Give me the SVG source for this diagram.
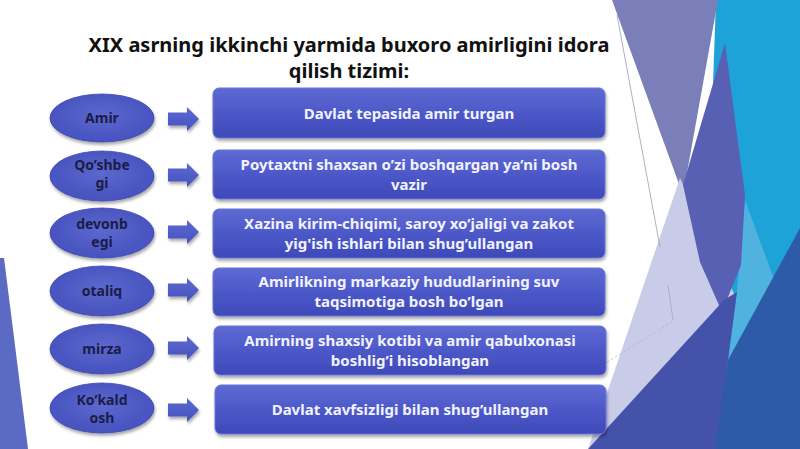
<svg xmlns="http://www.w3.org/2000/svg" width="800" height="449" viewBox="0 0 800 449">
<defs>
<linearGradient id="rg" x1="0" y1="0" x2="0" y2="1">
<stop offset="0" stop-color="#5e6ad3"/>
<stop offset="0.5" stop-color="#4d58c8"/>
<stop offset="1" stop-color="#3e49b9"/>
</linearGradient>
<radialGradient id="eg" cx="0.5" cy="0.45" r="0.6">
<stop offset="0" stop-color="#5c68ce"/>
<stop offset="1" stop-color="#4450bd"/>
</radialGradient>
<linearGradient id="ag" x1="0" y1="0" x2="0" y2="1">
<stop offset="0" stop-color="#5c68cf"/>
<stop offset="1" stop-color="#4753c0"/>
</linearGradient>
<filter id="sh" x="-10%" y="-20%" width="125%" height="150%">
<feDropShadow dx="1" dy="2.5" stdDeviation="1.8" flood-color="#000" flood-opacity="0.35"/>
</filter>
<style>
.tx{font-family:"Noto Sans","DejaVu Sans",sans-serif;font-weight:700;font-size:15px;fill:#f1f2ff;text-anchor:middle}
.el{font-family:"Noto Sans","DejaVu Sans",sans-serif;font-weight:700;font-size:14px;fill:#1a1d47;text-anchor:middle}
.hd{font-family:"Noto Sans","DejaVu Sans",sans-serif;font-weight:700;font-size:20px;fill:#111;text-anchor:middle}
.box{fill:url(#rg);stroke:#6a75d8;stroke-width:1;filter:url(#sh)}
.ell{fill:url(#eg);stroke:#4048b0;stroke-width:0.8;filter:url(#sh)}
.arr{fill:url(#ag);filter:url(#sh)}
</style>
</defs>
<rect width="800" height="449" fill="#ffffff"/>
<g id="background">
<polygon points="0,258 4,258 28,449 0,449" fill="#5b6bc4"/>
<polygon points="716,0 800,0 800,449 700,449" fill="#1ea3d9"/>
<polygon points="612,0 718,0 683,195" fill="#7a7fb9"/>
<polygon points="680,178 737,300 588,449" fill="#c9cce8"/>
<polygon points="745,200 775,282 728,360 737,290" fill="#4fb2df"/>
<polygon points="725,43 745,195 741,265 722,312 700,262 683,185" fill="#5860b3"/>
<polygon points="588,449 724,300 737,292 728,360 717,449" fill="#4452aa"/>
<polygon points="800,228 800,449 715,449 728,360" fill="#2d5ba7"/>
<line x1="617" y1="15" x2="660" y2="247" stroke="#9a9cb4" stroke-width="0.8"/>
<line x1="668" y1="285" x2="673" y2="320" stroke="#9a9cb4" stroke-width="0.6"/>
<line x1="598" y1="368" x2="673" y2="321" stroke="#a8abc4" stroke-width="0.6" stroke-dasharray="3,2"/>
</g>
<g id="title">
<text class="hd" x="349" y="52">XIX asrning ikkinchi yarmida buxoro amirligini idora</text>
<text class="hd" x="349" y="78">qilish tizimi:</text>
</g>
<g id="connectors">
<polygon class="arr" points="168,112.5 187,112.5 187,107 199,119 187,131 187,125.5 168,125.5"/>
<polygon class="arr" points="168,168.5 187,168.5 187,163 199,175 187,187 187,181.5 168,181.5"/>
<polygon class="arr" points="168,225.5 187,225.5 187,220 199,232 187,244 187,238.5 168,238.5"/>
<polygon class="arr" points="168,283.5 187,283.5 187,278 199,290 187,302 187,296.5 168,296.5"/>
<polygon class="arr" points="168,341.5 187,341.5 187,336 199,348 187,360 187,354.5 168,354.5"/>
<polygon class="arr" points="168,403.5 187,403.5 187,398 199,410 187,422 187,416.5 168,416.5"/>
</g>
<g id="n-amir">
<ellipse class="ell" cx="102" cy="118" rx="52" ry="24"/>
<text class="el" x="102" y="123">Amir</text>
</g>
<g id="n-qoshbegi">
<ellipse class="ell" cx="102" cy="176" rx="52" ry="25"/>
<text class="el" x="102" y="170">Qo’shbe</text>
<text class="el" x="102" y="188">gi</text>
</g>
<g id="n-devonbegi">
<ellipse class="ell" cx="102" cy="233" rx="52" ry="25"/>
<text class="el" x="102" y="229">devonb</text>
<text class="el" x="102" y="247">egi</text>
</g>
<g id="n-otaliq">
<ellipse class="ell" cx="102" cy="291" rx="52" ry="25"/>
<text class="el" x="102" y="296">otaliq</text>
</g>
<g id="n-mirza">
<ellipse class="ell" cx="102" cy="349" rx="52" ry="25"/>
<text class="el" x="102" y="354">mirza</text>
</g>
<g id="n-kokaldosh">
<ellipse class="ell" cx="102" cy="408" rx="52" ry="25"/>
<text class="el" x="102" y="405">Ko’kald</text>
<text class="el" x="102" y="423">osh</text>
</g>
<g id="b-amir">
<rect class="box" x="213" y="88" width="392" height="50" rx="6"/>
<text class="tx" x="409" y="119">Davlat tepasida amir turgan</text>
</g>
<g id="b-qoshbegi">
<rect class="box" x="213" y="150" width="392" height="49" rx="6"/>
<text class="tx" x="409" y="170">Poytaxtni shaxsan o’zi boshqargan ya’ni bosh</text>
<text class="tx" x="409" y="190">vazir</text>
</g>
<g id="b-devonbegi">
<rect class="box" x="213" y="209" width="392" height="49" rx="6"/>
<text class="tx" x="409" y="229">Xazina kirim-chiqimi, saroy xo’jaligi va zakot</text>
<text class="tx" x="409" y="249">yig'ish ishlari bilan shug’ullangan</text>
</g>
<g id="b-otaliq">
<rect class="box" x="213" y="268" width="392" height="48" rx="6"/>
<text class="tx" x="409" y="287">Amirlikning markaziy hududlarining suv</text>
<text class="tx" x="409" y="307">taqsimotiga bosh bo’lgan</text>
</g>
<g id="b-mirza">
<rect class="box" x="214" y="326" width="392" height="49" rx="6"/>
<text class="tx" x="410" y="346">Amirning shaxsiy kotibi va amir qabulxonasi</text>
<text class="tx" x="410" y="366">boshlig’i hisoblangan</text>
</g>
<g id="b-kokaldosh">
<rect class="box" x="215" y="385" width="391" height="49" rx="6"/>
<text class="tx" x="410" y="415">Davlat xavfsizligi bilan shug’ullangan</text>
</g>
</svg>
